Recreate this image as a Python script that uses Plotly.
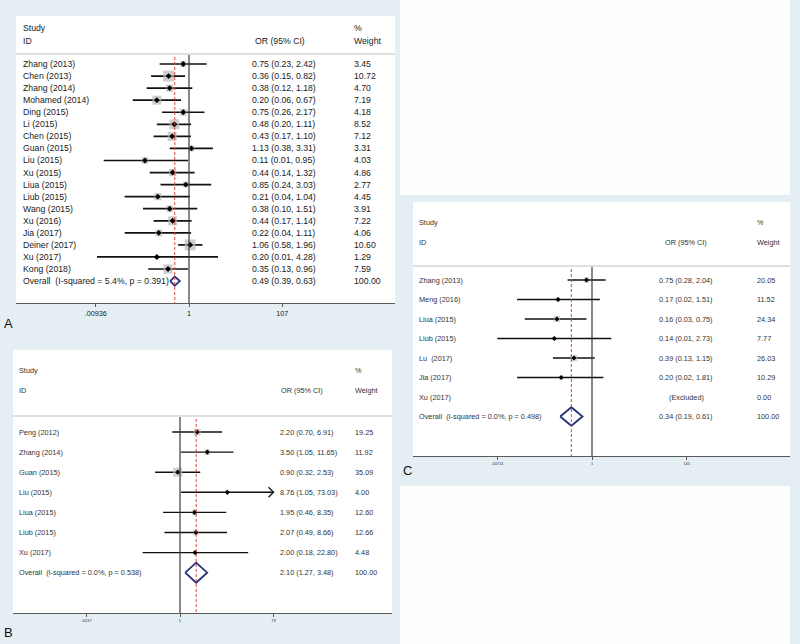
import math
import plotly.graph_objects as go

W, H = 800, 644

# ---------------- data ----------------
a_studies = ["Zhang (2013)", "Chen (2013)", "Zhang (2014)", "Mohamed (2014)", "Ding (2015)",
             "Li (2015)", "Chen (2015)", "Guan (2015)", "Liu (2015)", "Xu (2015)", "Liua (2015)",
             "Liub (2015)", "Wang (2015)", "Xu (2016)", "Jia (2017)", "Deiner (2017)", "Xu (2017)",
             "Kong (2018)"]
a_or = [0.75, 0.36, 0.38, 0.20, 0.75, 0.48, 0.43, 1.13, 0.11, 0.44, 0.85, 0.21, 0.38, 0.44, 0.22, 1.06, 0.20, 0.35]
a_lo = [0.23, 0.15, 0.12, 0.06, 0.26, 0.20, 0.17, 0.38, 0.014, 0.14, 0.24, 0.04, 0.10, 0.17, 0.04, 0.58, 0.01, 0.13]
a_hi = [2.42, 0.82, 1.18, 0.67, 2.17, 1.11, 1.10, 3.31, 0.95, 1.32, 3.03, 1.04, 1.51, 1.14, 1.11, 1.96, 4.28, 0.96]
a_w = [3.45, 10.72, 4.70, 7.19, 4.18, 8.52, 7.12, 3.31, 4.03, 4.86, 2.77, 4.45, 3.91, 7.22, 4.06, 10.60, 1.29, 7.59]
a_overall = [0.49, 0.39, 0.63]
a_overall_label = "Overall  (I-squared = 5.4%, p = 0.391)"
a_ticks = [0.00936, 1, 107]
a_ticktext = [".00936", "1", "107"]

b_studies = ["Peng (2012)", "Zhang (2014)", "Guan (2015)", "Liu (2015)", "Liua (2015)", "Liub (2015)", "Xu (2017)"]
b_or = [2.20, 3.50, 0.90, 8.76, 1.95, 2.07, 2.00]
b_lo = [0.70, 1.05, 0.32, 1.05, 0.46, 0.49, 0.18]
b_hi = [6.91, 11.65, 2.53, 73.03, 8.35, 8.66, 22.80]
b_w = [19.25, 11.92, 35.09, 4.00, 12.60, 12.66, 4.48]
b_overall = [2.10, 1.27, 3.48]
b_overall_label = "Overall  (I-squared = 0.0%, p = 0.538)"
b_ticks = [0.0137, 1, 73]
b_ticktext = [".0137", "1", "73"]

c_studies = ["Zhang (2013)", "Meng (2016)", "Liua (2015)", "Liub (2015)", "Lu  (2017)", "Jia (2017)", "Xu (2017)"]
c_or = [0.75, 0.17, 0.16, 0.14, 0.39, 0.20, None]
c_lo = [0.28, 0.02, 0.03, 0.0071, 0.13, 0.02, None]
c_hi = [2.04, 1.51, 0.75, 2.73, 1.15, 1.81, None]
c_w = [20.05, 11.52, 24.34, 7.77, 26.03, 10.29, 0.00]
c_overall = [0.34, 0.19, 0.61]
c_overall_label = "Overall  (I-squared = 0.0%, p = 0.498)"
c_ticks = [0.00714, 1, 140]
c_ticktext = [".00714", "1", "140"]

# ---------------- layout helpers ----------------
def px(x):
    return x / W

def py(y):
    return 1 - y / H

BG = "#e4eef3"

panels = [
    dict(letter="A", studies=a_studies, est=a_or, lo=a_lo, hi=a_hi, w=a_w, overall=a_overall,
         olabel=a_overall_label, ticks=a_ticks, ticktext=a_ticktext,
         xdom=(16, 395), ydom=(16, 303), x0=189, ppd=46.0, row0=64, step=12.06,
         hdr=(28, 41), sep=54, col_lab=21, col_or=250, col_or_hdr=253, or_anchor="left",
         col_w=352, fs=8.7, tfs=7.2, tcol="#1a1a1a", box_k=3.36, ci_w=1.7, pt=4.5,
         dia_h=4.6, letter_xy=(8, 323), box_col="#b9b9b9"),
    dict(letter="B", studies=b_studies, est=b_or, lo=b_lo, hi=b_hi, w=b_w, overall=b_overall,
         olabel=b_overall_label, ticks=b_ticks, ticktext=b_ticktext,
         xdom=(13, 392), ydom=(350, 613), x0=180, ppd=50.2, row0=432, step=20.1,
         hdr=(370, 390), sep=416, col_lab=17, col_or=278, col_or_hdr=279, or_anchor="left",
         col_w=353, fs=7.3, tfs=4.2, tcol="#333333", box_k=1.55, ci_w=1.4, pt=4,
         dia_h=10, letter_xy=(8, 632), box_col="#c2c2c2"),
    dict(letter="C", studies=c_studies, est=c_or, lo=c_lo, hi=c_hi, w=c_w, overall=c_overall,
         olabel=c_overall_label, ticks=c_ticks, ticktext=c_ticktext,
         xdom=(413, 790), ydom=(202, 456), x0=592, ppd=44.1, row0=280, step=19.5,
         hdr=(222, 242), sep=266, col_lab=417, col_or=686, col_or_hdr=686, or_anchor="center",
         col_w=755, fs=7.3, tfs=3.8, tcol="#333333", box_k=1.25, ci_w=1.4, pt=4,
         dia_h=9.3, letter_xy=(407, 470), box_col="#c2c2c2"),
]

fig = go.Figure()
shapes = []
annotations = []

# blank white tiles on the right column
shapes.append(dict(type="rect", xref="paper", yref="paper", x0=px(400), x1=px(790), y0=py(195), y1=py(0),
                   fillcolor="#fdfefe", line=dict(width=0), layer="below"))
shapes.append(dict(type="rect", xref="paper", yref="paper", x0=px(400), x1=px(790), y0=py(644), y1=py(486),
                   fillcolor="#fdfefe", line=dict(width=0), layer="below"))

FONT = "Liberation Sans, Arial, sans-serif"

for k, p in enumerate(panels):
    sfx = "" if k == 0 else str(k + 1)
    xid, yid = "x" + sfx, "y" + sfx
    l, r = p["xdom"]
    t, b = p["ydom"]
    x0, ppd, row0, step = p["x0"], p["ppd"], p["row0"], p["step"]
    n = len(p["studies"])

    fig.layout["xaxis" + sfx] = dict(
        domain=[px(l), px(r)], type="log",
        range=[(l - x0) / ppd, (r - x0) / ppd], anchor=yid,
        showgrid=False, zeroline=False, showline=True, linecolor="#5a5a5a", linewidth=1.3,
        ticks="outside", ticklen=3, tickwidth=1, tickcolor="#5a5a5a",
        tickvals=p["ticks"], ticktext=p["ticktext"],
        tickfont=dict(family=FONT, size=p["tfs"], color=p["tcol"]), fixedrange=True)
    fig.layout["yaxis" + sfx] = dict(
        domain=[py(b), py(t)], range=[(b - row0) / step, (t - row0) / step],
        anchor=xid, visible=False, fixedrange=True)

    # CI lines (clipped at axis extreme ticks)
    clip_hi = p["ticks"][-1]
    clip_lo = p["ticks"][0]
    xs, ys = [], []
    arrows = []
    for i in range(n):
        if p["est"][i] is None:
            continue
        lo = max(p["lo"][i], clip_lo)
        hi = min(p["hi"][i], clip_hi)
        xs += [lo, hi, None]
        ys += [i, i, None]
        if p["hi"][i] > clip_hi:
            arrows.append(i)
    fig.add_trace(go.Scatter(x=xs, y=ys, mode="lines", xaxis=xid, yaxis=yid,
                             line=dict(color="#111111", width=p["ci_w"]), hoverinfo="skip", showlegend=False))

    # weight boxes
    bi = [i for i in range(n) if p["est"][i] is not None]
    fig.add_trace(go.Scatter(
        x=[p["est"][i] for i in bi], y=bi, mode="markers", xaxis=xid, yaxis=yid,
        marker=dict(symbol="square", size=[p["box_k"] * math.sqrt(p["w"][i]) for i in bi],
                    color=p["box_col"], line=dict(width=0)),
        hoverinfo="skip", showlegend=False))
    # point estimates
    fig.add_trace(go.Scatter(
        x=[p["est"][i] for i in bi], y=bi, mode="markers", xaxis=xid, yaxis=yid,
        marker=dict(symbol="diamond", size=p["pt"], color="#000000", line=dict(width=0)),
        hoverinfo="skip", showlegend=False))

    # chevrons for clipped CIs
    for i in arrows:
        tip = math.log10(clip_hi)
        back = 10 ** (tip - 5.0 / ppd)
        dy = 5.0 / step
        fig.add_trace(go.Scatter(x=[back, clip_hi, back], y=[i - dy, i, i + dy], mode="lines",
                                 xaxis=xid, yaxis=yid, line=dict(color="#111111", width=1.3),
                                 hoverinfo="skip", showlegend=False))

    # overall diamond
    est, olo, ohi = p["overall"]
    h = p["dia_h"] / step
    fig.add_trace(go.Scatter(x=[olo, est, ohi, est, olo], y=[n, n - h, n, n + h, n], mode="lines",
                             xaxis=xid, yaxis=yid, line=dict(color="#27307a", width=1.8),
                             hoverinfo="skip", showlegend=False))

    ytop = (p["sep"] + 1 - row0) / step
    ybot = (b - row0) / step
    # null line
    shapes.append(dict(type="line", xref=xid, yref=yid, x0=1, x1=1, y0=ytop, y1=ybot,
                       line=dict(color="#3a3a3a", width=1.2)))
    # overall estimate line
    shapes.append(dict(type="line", xref=xid, yref=yid, x0=est, x1=est, y0=ytop + 2.0 / step, y1=ybot,
                       line=dict(color="#d9473f", width=1, dash="3px,2px")))
    # header separator
    shapes.append(dict(type="line", xref="paper", yref="paper", x0=px(l), x1=px(r),
                       y0=py(p["sep"]), y1=py(p["sep"]), line=dict(color="#d4d4d4", width=1.5)))

    font = dict(family=FONT, size=p["fs"], color=p["tcol"])

    def txt(x, y, s, anchor="left", yref="paper"):
        annotations.append(dict(x=x, y=y, xref="paper", yref=yref, text=s, showarrow=False,
                                xanchor=anchor, yanchor="middle", font=font))

    # headers
    txt(px(p["col_lab"]), py(p["hdr"][0]), "Study")
    txt(px(p["col_lab"]), py(p["hdr"][1]), "ID")
    hdr_anchor = "center" if p["or_anchor"] == "center" else "left"
    txt(px(p["col_or_hdr"]), py(p["hdr"][1]), "OR (95% CI)", hdr_anchor)
    txt(px(p["col_w"]), py(p["hdr"][0]), "%")
    txt(px(p["col_w"]), py(p["hdr"][1]), "Weight")

    # rows
    for i in range(n):
        txt(px(p["col_lab"]), i, p["studies"][i], yref=yid)
        if p["est"][i] is None:
            s = "(Excluded)"
            txt(px(p["col_or"] if p["or_anchor"] == "center" else p["col_or"] + 22), i, s, "center", yref=yid)
        else:
            s = "%.2f (%.2f, %.2f)" % (p["est"][i], p["lo"][i], p["hi"][i])
            txt(px(p["col_or"]), i, s, p["or_anchor"], yref=yid)
        txt(px(p["col_w"]), i, "%.2f" % p["w"][i], yref=yid)
    txt(px(p["col_lab"]), n, p["olabel"], yref=yid)
    txt(px(p["col_or"]), n, "%.2f (%.2f, %.2f)" % (est, olo, ohi), p["or_anchor"], yref=yid)
    txt(px(p["col_w"]), n, "100.00", yref=yid)

    # panel letter
    annotations.append(dict(x=px(p["letter_xy"][0]), y=py(p["letter_xy"][1]), xref="paper", yref="paper",
                            text=p["letter"], showarrow=False, xanchor="center", yanchor="middle",
                            font=dict(family=FONT, size=13, color="#111111")))

fig.update_layout(
    width=W, height=H, margin=dict(l=0, r=0, t=0, b=0),
    paper_bgcolor=BG, plot_bgcolor="#ffffff",
    shapes=shapes, annotations=annotations, showlegend=False,
)

fig.write_html("out.html", config={"displayModeBar": False},
               post_script="document.body.style.margin='0';document.body.style.overflow='hidden';")
